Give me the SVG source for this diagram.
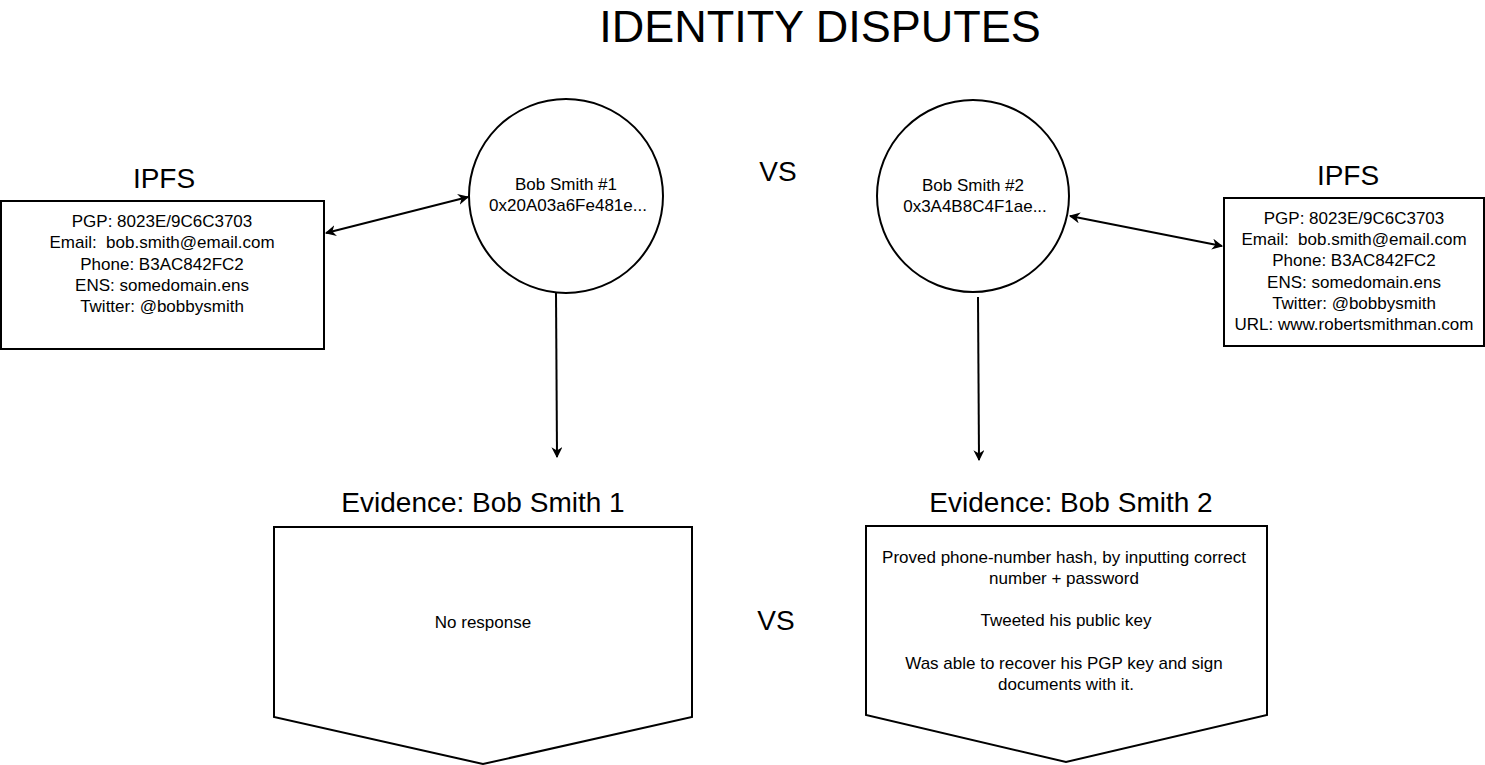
<svg xmlns="http://www.w3.org/2000/svg" width="1485" height="765" viewBox="0 0 1485 765">
<style>
text{font-family:"Liberation Sans",Arial,sans-serif;fill:#000;text-anchor:middle}
.b{font-size:17px}
.h{font-size:28px}
.s{fill:#fff;stroke:#000;stroke-width:2}
.c{fill:none;stroke:#000;stroke-width:2}
</style>
<defs>
<marker id="ah" viewBox="0 0 10 10" refX="9" refY="5" markerWidth="11" markerHeight="11" markerUnits="userSpaceOnUse" orient="auto-start-reverse">
<path d="M0,0 L10,5 L0,10 L3,5 Z" fill="#000"/>
</marker>
</defs>
<rect width="1485" height="765" fill="#fff"/>
<text x="820" y="42" style="font-size:45px">IDENTITY DISPUTES</text>
<g id="ipfs1">
<text class="h" x="164" y="188">IPFS</text>
<rect class="s" x="1" y="201" width="323" height="148"/>
<text class="b" x="162" y="227">PGP: 8023E/9C6C3703</text>
<text class="b" x="162" y="248" xml:space="preserve">Email:  bob.smith@email.com</text>
<text class="b" x="162" y="270">Phone: B3AC842FC2</text>
<text class="b" x="162" y="291">ENS: somedomain.ens</text>
<text class="b" x="162" y="312">Twitter: @bobbysmith</text>
</g>
<g id="bob1">
<circle class="s" cx="566" cy="196" r="97"/>
<text class="b" x="566" y="190">Bob Smith #1</text>
<text class="b" x="568" y="211">0x20A03a6Fe481e...</text>
</g>
<g id="bob2">
<circle class="s" cx="973" cy="196" r="96"/>
<text class="b" x="973" y="191">Bob Smith #2</text>
<text class="b" x="975" y="212">0x3A4B8C4F1ae...</text>
</g>
<g id="ipfs2">
<text class="h" x="1348" y="185">IPFS</text>
<rect class="s" x="1224" y="198" width="260" height="148"/>
<text class="b" x="1354" y="224">PGP: 8023E/9C6C3703</text>
<text class="b" x="1354" y="245" xml:space="preserve">Email:  bob.smith@email.com</text>
<text class="b" x="1354" y="266">Phone: B3AC842FC2</text>
<text class="b" x="1354" y="288">ENS: somedomain.ens</text>
<text class="b" x="1354" y="309">Twitter: @bobbysmith</text>
<text class="b" x="1354" y="330">URL: www.robertsmithman.com</text>
</g>
<g id="vs1"><text class="h" x="778" y="181">VS</text></g>
<g id="vs2"><text class="h" x="776" y="630">VS</text></g>
<g id="ev1">
<text class="h" x="483" y="512">Evidence: Bob Smith 1</text>
<polygon class="s" points="274,527 692,527 692,717 483,764 274,717"/>
<text class="b" x="483" y="628">No response</text>
</g>
<g id="ev2">
<text class="h" x="1071" y="512">Evidence: Bob Smith 2</text>
<polygon class="s" points="866,526 1267,526 1267,715 1066,762 866,715"/>
<text class="b" x="1064" y="563">Proved phone-number hash, by inputting correct</text>
<text class="b" x="1064" y="584">number + password</text>
<text class="b" x="1066" y="626">Tweeted his public key</text>
<text class="b" x="1064" y="669">Was able to recover his PGP key and sign</text>
<text class="b" x="1066" y="690">documents with it.</text>
</g>
<g id="connectors">
<line class="c" x1="326" y1="233" x2="468" y2="197" marker-start="url(#ah)" marker-end="url(#ah)"/>
<line class="c" x1="1070" y1="216" x2="1222" y2="246" marker-start="url(#ah)" marker-end="url(#ah)"/>
<line class="c" x1="556" y1="292" x2="557" y2="457" marker-end="url(#ah)"/>
<line class="c" x1="978" y1="297" x2="979" y2="460" marker-end="url(#ah)"/>
</g>
</svg>
